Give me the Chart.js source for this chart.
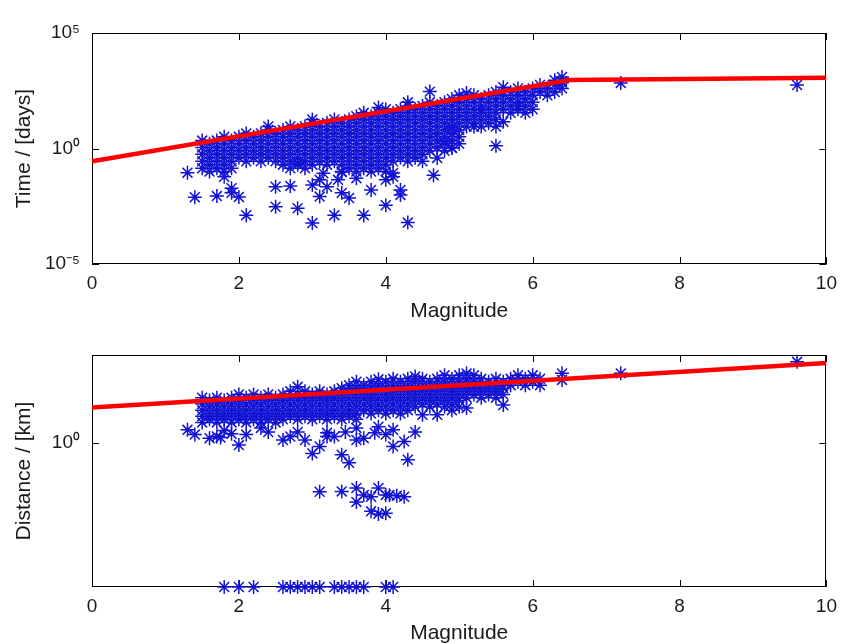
<!DOCTYPE html>
<html><head><meta charset="utf-8">
<script src="https://cdn.jsdelivr.net/npm/chart.js@4.4.0/dist/chart.umd.min.js"></script>
<style>
html,body{margin:0;padding:0;background:#fff;}
#wrap{position:relative;width:845px;height:644px;overflow:hidden;}
canvas{position:absolute;left:0;}
#c1{top:0}#c2{top:322px}
</style></head><body>
<div id="wrap"><canvas id="c1" width="845" height="322"></canvas><canvas id="c2" width="845" height="322"></canvas></div>
<script>
// ---------- axes ----------
const xTicks = [0, 2, 4, 6, 8, 10];
const timeTicks = [1e-5, 1, 1e5];
const timeTickLabels = ['10\u207B\u2075', '10\u2070', '10\u2075'];
const distTicks = [1];
const distTickLabels = ['10\u2070'];

// ---------- fitted window lines ----------
const timeFitMag = [0, 6.5, 10];
const timeFitDays = [0.28, 930, 1150];
const distFitMag = [0, 10];
const distFitKm = [9.6, 166];

// ---------- top panel: time (days) ----------
const timeColMag = [1.5,1.6,1.7,1.8,1.9,2.0,2.1,2.2,2.3,2.4,2.5,2.6,2.7,2.8,2.9,3.0,3.1,3.2,3.3,3.4,3.5,3.6,3.7,3.8,3.9,4.0,4.1,4.2,4.3,4.4,4.5,4.6,4.7,4.8,4.9,5.0,5.1,5.2,5.3,5.4,5.5,5.6,5.7,5.8,5.9,6.0,6.1,6.2,6.3,6.4];
const timeColDays = [
 [2.2,1.1,0.56,0.28,0.14],
 [1.6,0.8,0.4,0.2,0.1],
 [2.2,1.1,0.56,0.28,0.14],
 [3.2,1.6,0.8,0.4,0.2,0.1],
 [2.2,1.1,0.56,0.28,0.14],
 [3.2,1.6,0.8,0.4],
 [4.5,2.2,1.1,0.56,0.28],
 [3.2,1.6,0.8,0.4],
 [4.5,2.2,1.1,0.56,0.28],
 [6.3,3.2,1.6,0.8,0.4],
 [4.5,2.2,1.1,0.56,0.28],
 [6.3,3.2,1.6,0.8,0.4,0.2],
 [9,4.5,2.2,1.1,0.56,0.28,0.14],
 [6.3,3.2,1.6,0.8,0.4,0.2],
 [9,4.5,2.2,1.1,0.56,0.28,0.14],
 [12.6,6.3,3.2,1.6,0.8,0.4,0.2],
 [9,4.5,2.2,1.1,0.56,0.28],
 [12.6,6.3,3.2,1.6,0.8,0.4,0.2],
 [18,9,4.5,2.2,1.1,0.56,0.28],
 [12.6,6.3,3.2,1.6,0.8,0.4,0.2,0.1],
 [18,9,4.5,2.2,1.1,0.56,0.28,0.14],
 [25,12.6,6.3,3.2,1.6,0.8,0.4,0.2,0.1],
 [35,18,9,4.5,2.2,1.1,0.56,0.28,0.14],
 [25,12.6,6.3,3.2,1.6,0.8,0.4,0.2,0.1],
 [35,18,9,4.5,2.2,1.1,0.56,0.28,0.14],
 [50,25,12.6,6.3,3.2,1.6,0.8,0.4,0.2,0.1],
 [35,18,9,4.5,2.2,1.1,0.56,0.28],
 [50,25,12.6,6.3,3.2,1.6,0.8,0.4],
 [70,35,18,9,4.5,2.2,1.1,0.56,0.28],
 [50,25,12.6,6.3,3.2,1.6,0.8,0.4],
 [70,35,18,9,4.5,2.2,1.1,0.56,0.28],
 [100,50,25,12.6,6.3,3.2,1.6,0.8],
 [70,35,18,9,4.5,2.2,1.1],
 [100,50,25,12.6,6.3,3.2,1.6,0.8],
 [140,70,35,18,9,4.5,2.2,1.1],
 [100,50,25,12.6,6.3,3.2,1.6],
 [140,70,35,18,9],
 [200,100,50,25,12.6],
 [140,70,35,18,9],
 [200,100,50,25,12.6],
 [280,140,70,35,18,9],
 [200,100,50],
 [280,140,70,35],
 [400,200,100,50],
 [280,140,70,35],
 [400,200,100,50],
 [560,280],
 [400,200],
 [560,280],
 [800,400]
];
const timeOutMag = [3.9,4.3,4.6,5.1,5.6,6.3,6.4,6.4,7.2,9.6,2.4,3.0,5.0,
 1.3,1.4,1.7,1.9,1.9,2.0,2.1,
 2.5,2.7,2.5,2.8,3.0,3.0,3.1,3.2,3.3,3.4,
 3.5,3.6,3.7,3.8,4.0,4.1,4.2,4.3,
 4.65,4.7,4.8,4.9,5.2,5.5,5.6,5.8,5.3,4.9,
 2.8,1.8,3.1,3.15,3.35,3.4,4.0,4.1,4.2];
const timeOutDays = [60,100,290,250,450,900,1250,700,690,560,9,18,200,
 0.09,0.0078,0.0087,0.019,0.012,0.008,0.0013,
 0.022,0.024,0.003,0.0026,0.00059,0.026,0.0083,0.022,0.0013,0.012,
 0.0072,0.052,0.0013,0.016,0.0035,0.087,0.0098,0.00062,
 0.07,0.39,1.95,1.05,8.7,1.3,14.5,65,47,7.8,
 0.23,0.06,0.044,0.085,0.044,0.095,0.044,0.06,0.016];

// ---------- bottom panel: distance (km) ----------
const distColMag = [1.5,1.6,1.7,1.8,1.9,2.0,2.1,2.2,2.3,2.4,2.5,2.6,2.7,2.8,2.9,3.0,3.1,3.2,3.3,3.4,3.5,3.6,3.7,3.8,3.9,4.0,4.1,4.2,4.3,4.4,4.5,4.6,4.7,4.8,4.9,5.0,5.1,5.2,5.3,5.4,5.5,5.6,5.7,5.8,5.9,6.0,6.1,6.4];
const distColKm = [
 [18,12,8,5.5,3.7],
 [15,10,6.5,4.5],
 [18,12,8,5.5,3.7],
 [15,10,6.5,4.5],
 [18,12,8,5.5,3.7],
 [22,15,10,6.5,4.5],
 [18,12,8,5.5,3.7],
 [22,15,10,6.5,4.5],
 [18,12,8,5.5,3.7],
 [22,15,10,6.5,4.5],
 [18,12,8,5.5,3.7],
 [22,15,10,6.5,4.5],
 [27,18,12,8,5.5],
 [22,15,10,6.5,4.5],
 [27,18,12,8,5.5],
 [22,15,10,6.5,4.5],
 [27,18,12,8,5.5],
 [22,15,10,6.5,4.5],
 [27,18,12,8,5.5],
 [33,22,15,10,6.5,4.5],
 [40,27,18,12,8,5.5],
 [50,33,22,15,10,6.5,4.5],
 [40,27,18,12,8],
 [50,33,22,15,10,6.5],
 [40,27,18,12,8],
 [50,33,22,15,10,6.5],
 [60,40,27,18,12,8],
 [50,33,22,15,10,6.5],
 [60,40,27,18,12,8],
 [50,33,22,15,10],
 [60,40,27,18,12],
 [50,33,22,15,10],
 [60,40,27,18,12],
 [75,50,33,22,15,10],
 [60,40,27,18,12],
 [75,50,33,22,15,10],
 [60,40,27,18],
 [75,50,33,22],
 [60,40,27,18],
 [50,33,22],
 [60,40,27,18],
 [50,33,22],
 [60,40],
 [75,50],
 [60,40],
 [75,50],
 [60,40],
 [85,56]
];
const distOutMag = [2.8,3.9,4.4,5.1,7.2,9.6,
 1.3,1.4,1.6,1.7,1.75,2.0,2.1,2.3,2.4,2.6,
 2.9,3.0,3.1,3.2,3.4,3.5,3.6,4.0,4.25,4.3,
 4.4,4.5,4.7,4.9,5.1,5.6,1.8,1.9,2.7,2.8,
 3.2,3.3,3.45,3.7,3.85,3.6,3.9,4.1,4.1,
 3.1,3.4,3.6,3.6,3.7,3.8,3.9,4.0,4.05,4.15,4.25,3.8,3.9,4.0];
const distOutKm = [36,58,70,85,85,178,
 2.3,1.7,1.35,1.5,1.4,0.87,1.7,2.6,2.0,1.2,
 1.2,0.51,0.8,1.5,0.47,0.28,1.2,1.7,1.1,0.34,
 2.0,6.0,6.0,8.1,9.3,11.2,2.2,1.8,1.5,2.0,
 1.9,1.5,2.0,1.35,1.9,2.6,2.8,2.3,0.8,
 0.044,0.045,0.056,0.023,0.036,0.032,0.056,0.036,0.035,0.034,0.032,0.0126,0.0107,0.0112];
const distFloorMag = [1.8,2.0,2.2,2.6,2.7,2.8,2.9,3.0,3.1,3.3,3.4,3.5,3.6,3.7,4.0,4.1];
const distFloorKm = [1e-4,1e-4,1e-4,1e-4,1e-4,1e-4,1e-4,1e-4,1e-4,1e-4,1e-4,1e-4,1e-4,1e-4,1e-4,1e-4];

// ---------- helpers ----------
function colPoints(mags, cols) {
  const out = [];
  mags.forEach((m, i) => cols[i].forEach(v => out.push({x: m, y: v})));
  return out;
}
function pairPoints(xs, ys) { return xs.map((m, i) => ({x: m, y: ys[i]})); }

const FONT = "'Liberation Sans', Arial, Helvetica, sans-serif";
const TEXT = '#1a1a1a';

const framePlugin = {
  id: 'frame',
  beforeDatasetsDraw(chart) {
    const {ctx, chartArea: a, scales: {x, y}} = chart;
    ctx.save();
    ctx.strokeStyle = '#000';
    ctx.lineWidth = 1;
    ctx.strokeRect(Math.round(a.left) + 0.5, Math.round(a.top) + 0.5,
                   Math.round(a.right - a.left) - 1, Math.round(a.bottom - a.top) - 1);
    const L = 7;
    ctx.beginPath();
    x.ticks.forEach(t => {
      const px = Math.round(x.getPixelForValue(t.value)) + 0.5;
      ctx.moveTo(px, a.bottom); ctx.lineTo(px, a.bottom - L);
      ctx.moveTo(px, a.top); ctx.lineTo(px, a.top + L);
    });
    y.ticks.forEach(t => {
      const py = Math.round(y.getPixelForValue(t.value)) + 0.5;
      ctx.moveTo(a.left, py); ctx.lineTo(a.left + L, py);
      ctx.moveTo(a.right, py); ctx.lineTo(a.right - L, py);
    });
    ctx.stroke();
    ctx.restore();
  }
};

function makeChart(id, cfg) {
  return new Chart(document.getElementById(id), {
    type: 'scatter',
    data: {
      datasets: [
        {type: 'line', data: cfg.fit, borderColor: '#ff0000', borderWidth: 4.5,
         pointRadius: 0, fill: false, tension: 0, order: 0},
        {type: 'scatter', data: cfg.points, pointStyle: 'star', pointRadius: 7,
         borderColor: '#1212d4', borderWidth: 1.5, backgroundColor: 'rgba(0,0,0,0)',
         showLine: false, order: 1, clip: false}
      ]
    },
    options: {
      responsive: false, animation: false, events: [],
      layout: {padding: {left: 0, right: 12, top: 33, bottom: 0}},
      plugins: {legend: {display: false}, tooltip: {enabled: false}},
      scales: {
        x: {
          type: 'linear', min: 0, max: 10,
          afterBuildTicks: s => { s.ticks = xTicks.map(v => ({value: v})); },
          grid: {display: false, drawTicks: false}, border: {display: false},
          ticks: {padding: 8, autoSkip: false, maxRotation: 0, color: TEXT,
                  font: {family: FONT, size: 19}},
          title: {display: true, text: 'Magnitude', color: TEXT, padding: 0,
                  font: {family: FONT, size: 21, lineHeight: 1}},
          afterFit: s => { s.height = cfg.xHeight; }
        },
        y: {
          type: 'logarithmic', min: cfg.ymin, max: cfg.ymax,
          afterBuildTicks: s => { s.ticks = cfg.yTicks.map(v => ({value: v})); },
          grid: {display: false, drawTicks: false}, border: {display: false},
          ticks: {padding: 12, autoSkip: false, color: TEXT,
                  font: {family: FONT, size: 19},
                  callback: (v, i) => cfg.yLabels[i]},
          title: {display: true, text: cfg.yTitle, color: TEXT,
                  padding: {top: 13.5, bottom: 0},
                  font: {family: FONT, size: 21, lineHeight: 1}},
          afterFit: s => { s.width = 92; }
        }
      }
    },
    plugins: [framePlugin]
  });
}

makeChart('c1', {
  fit: pairPoints(timeFitMag, timeFitDays),
  points: colPoints(timeColMag, timeColDays).concat(pairPoints(timeOutMag, timeOutDays)),
  ymin: 1e-5, ymax: 1e5, yTicks: timeTicks, yLabels: timeTickLabels,
  yTitle: 'Time / [days]', xHeight: 58
});
makeChart('c2', {
  fit: pairPoints(distFitMag, distFitKm),
  points: colPoints(distColMag, distColKm)
    .concat(pairPoints(distOutMag, distOutKm))
    .concat(pairPoints(distFloorMag, distFloorKm)),
  ymin: 1e-4, ymax: 275, yTicks: distTicks, yLabels: distTickLabels,
  yTitle: 'Distance / [km]', xHeight: 57
});
</script>
</body></html>
